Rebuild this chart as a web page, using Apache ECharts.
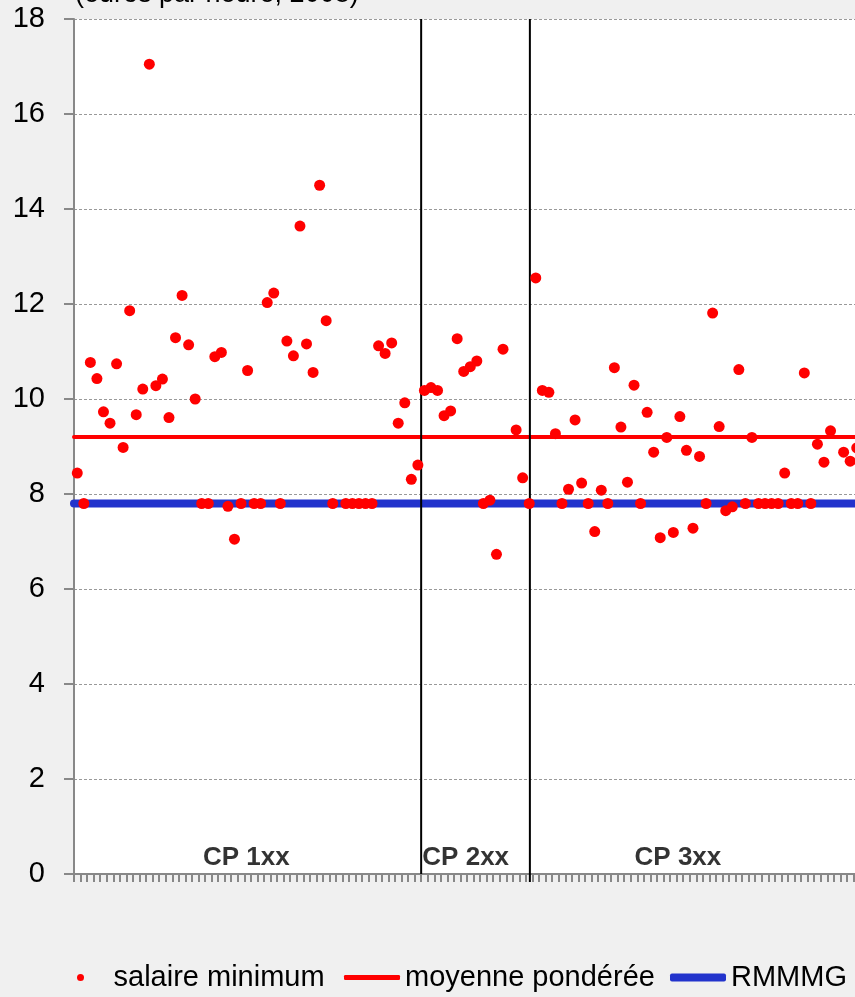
<!DOCTYPE html>
<html>
<head>
<meta charset="utf-8">
<script src="https://cdn.jsdelivr.net/npm/echarts@6/dist/echarts.min.js"></script>
<style>
  html, body { margin: 0; padding: 0; background: #f0f0f0; }
  #chart { width: 855px; height: 997px; }
</style>
</head>
<body>
<div id="chart"></div>
<script>
// salaire minimum par convention (euros/heure), null = pas de valeur
const minWages = [
  8.44, 7.8, 10.77, 10.43, 9.73, 9.49, 10.74, 8.98, 11.86, 9.67,
  10.21, 17.05, 10.28, 10.42, 9.61, 11.29, 12.18, 11.14, 10.0, 7.8,
  7.8, 10.89, 10.98, 7.74, 7.05, 7.8, 10.6, 7.8, 7.8, 12.03,
  12.23, 7.8, 11.22, 10.91, 13.64, 11.16, 10.56, 14.5, 11.65, 7.8,
  null, 7.8, 7.8, 7.8, 7.8, 7.8, 11.12, 10.96, 11.18, 9.49,
  9.92, 8.31, 8.61, 10.18, 10.24, 10.18, 9.65, 9.75, 11.27, 10.58,
  10.68, 10.8, 7.8, 7.87, 6.73, 11.05, null, 9.35, 8.34, 7.8,
  12.55, 10.18, 10.14, 9.27, 7.8, 8.1, 9.56, 8.23, 7.8, 7.21,
  8.08, 7.8, 10.66, 9.41, 8.25, 10.29, 7.8, 9.72, 8.88, 7.08,
  9.19, 7.19, 9.63, 8.92, 7.28, 8.79, 7.8, 11.81, 9.42, 7.65,
  7.73, 10.62, 7.8, 9.19, 7.8, 7.8, 7.8, 7.8, 8.44, 7.8,
  7.8, 10.55, 7.8, 9.05, 8.67, 9.33, null, 8.88, 8.69, 8.97
]
const weightedMean = 9.2
const rmmmg = 7.8
const groupNames = ['CP 1xx', 'CP 2xx', 'CP 3xx']
const groupBounds = [53, 69.6]       // séparations entre groupes (en rang)
const yTicks = [0, 2, 4, 6, 8, 10, 12, 14, 16, 18]

const N = minWages.length
const groupLabelX = [26.3, 59.8, 92.2]
const groupLabelY = 0.34
const FONT = '"Liberation Sans", Arial, sans-serif'

const chart = echarts.init(document.getElementById('chart'), null, { renderer: 'canvas' })

const scatterData = []
minWages.forEach((v, i) => { if (v !== null) scatterData.push([i + 0.5, v]) })

const dividerSeries = groupBounds.map((x, k) => ({
  name: 'sep' + k,
  type: 'line',
  data: [[x, k === 0 ? 0 : -0.17], [x, 18]],
  symbol: 'none',
  clip: false,
  silent: true,
  lineStyle: { color: '#000', width: 2 },
  z: 3,
}))

const legendText = { fontFamily: FONT, fontSize: 29, color: '#000' }
function legendFor(name, icon, h, left) {
  return {
    data: [{ name, icon }],
    left, top: 958,
    itemWidth: 56, itemHeight: h,
    selectedMode: false,
    textStyle: legendText,
  }
}

chart.setOption({
  backgroundColor: '#f0f0f0',
  animation: false,
  title: {
    text: '(euros par heure, 2008)',
    left: 70,
    top: -24,
    textStyle: { fontFamily: FONT, fontSize: 27, fontWeight: 'normal', color: '#000' },
  },
  grid: {
    left: 74, top: 19, width: N * 6.55, height: 855,
    show: true, backgroundColor: '#fff', borderWidth: 0,
    containLabel: false, outerBoundsMode: 'none',
  },
  legend: [
    legendFor('salaire minimum', 'circle', 7, 72),
    legendFor('moyenne pondérée', 'roundRect', 5, 339),
    legendFor('RMMMG', 'roundRect', 8, 665),
  ],
  xAxis: {
    type: 'value',
    min: 0, max: N, interval: 1,
    axisLabel: { show: false },
    splitLine: { show: false },
    axisLine: { lineStyle: { color: '#888', width: 2 } },
    axisTick: { length: 8, lineStyle: { color: '#888', width: 2 } },
  },
  yAxis: {
    type: 'value',
    min: yTicks[0], max: yTicks[yTicks.length - 1], interval: 2,
    axisLine: { show: true, lineStyle: { color: '#888', width: 2 } },
    axisTick: { show: true, length: 10, lineStyle: { color: '#888', width: 2 } },
    axisLabel: { margin: 29, fontFamily: FONT, fontSize: 29, color: '#000' },
    splitLine: { lineStyle: { color: '#999', type: [3, 2], width: 1 } },
  },
  series: [
    {
      name: 'moyenne pondérée',
      type: 'line',
      data: [[0, weightedMean], [N, weightedMean]],
      symbol: 'none',
      lineStyle: { color: '#ff0000', width: 4, cap: 'round' },
      itemStyle: { color: '#ff0000' },
      z: 2,
    },
    {
      name: 'RMMMG',
      type: 'line',
      data: [[0, rmmmg], [N, rmmmg]],
      symbol: 'none',
      lineStyle: { color: '#2233cc', width: 8, cap: 'round' },
      itemStyle: { color: '#2233cc' },
      z: 2,
    },
    ...dividerSeries,
    {
      name: 'salaire minimum',
      type: 'scatter',
      data: scatterData,
      symbol: 'circle',
      symbolSize: 11,
      itemStyle: { color: '#ff0000', opacity: 1 },
      z: 5,
    },
    {
      name: 'groupes',
      type: 'scatter',
      data: groupNames.map((g, k) => ({ value: [groupLabelX[k], groupLabelY], name: g })),
      symbolSize: 0,
      silent: true,
      label: {
        show: true, position: 'inside', formatter: p => p.name,
        fontFamily: FONT, fontSize: 26, fontWeight: 'bold', color: '#000',
      },
      z: 6,
    },
  ],
})
</script>
</body>
</html>
